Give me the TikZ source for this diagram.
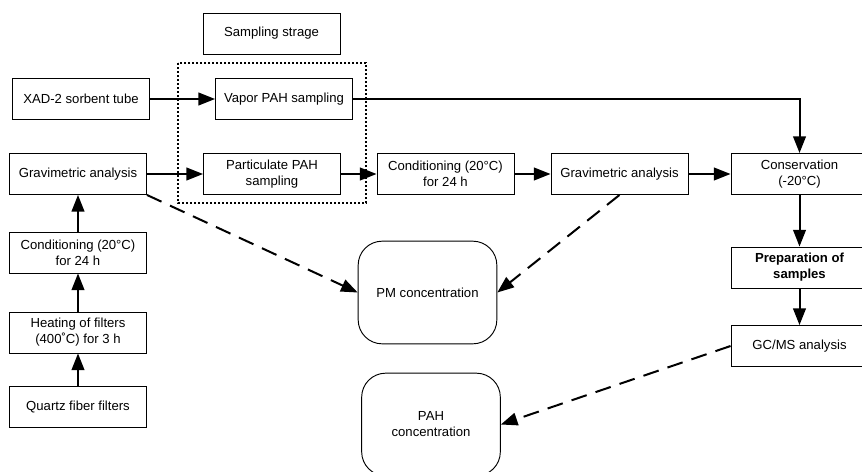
\documentclass[tikz,border=0pt]{standalone}
\usepackage{fontspec}
\setmainfont{Liberation Sans}
\usetikzlibrary{arrows.meta}
\tikzset{
  >={Triangle[length=12.5pt,width=9.5pt]},
  box/.style={draw, line width=0.7pt, minimum width=102.75pt, minimum height=30.75pt,
    align=center, inner sep=2pt, font=\fontsize{9.85}{12}\selectfont},
  roundbox/.style={box, rounded corners=18pt, minimum width=104pt, minimum height=77pt},
  arrow/.style={->, line width=1.5pt},
  dashedarrow/.style={->, line width=1.5pt, dash pattern=on 12pt off 7pt},
  stageframe/.style={draw, line width=1.5pt, dash pattern=on 1.6pt off 1.4pt}
}

\begin{document}
\begin{tikzpicture}[x=0.75pt, y=-0.75pt]
  \clip (0,0) rectangle (862,471);

  % sampling stage
  \node[box] (stage) at (271.5,33.5) {Sampling strage};
  \draw[stageframe] (178,63) rectangle (366,203);

  \node[box] (xad)    at (81,99)    {XAD-2 sorbent tube};
  \node[box] (vapor)  at (284,99)   {Vapor PAH sampling};
  \node[box] (gravL)  at (78,174)   {Gravimetric analysis};
  \node[box] (part)   at (272,174)  {Particulate PAH\\sampling};
  \node[box] (condM)  at (445.5,174) {Conditioning (20°C)\\for 24 h};
  \node[box] (gravM)  at (619.5,174) {Gravimetric analysis};
  \node[box] (cons)   at (799.5,174) {Conservation\\(-20°C)};
  \node[box, font=\fontsize{9.85}{12}\selectfont\bfseries] (prep) at (799.5,267.5) {Preparation of\\samples};
  \node[box] (gcms)   at (799.5,346) {GC/MS analysis};

  % filter preparation
  \node[box] (condL)  at (78,252.5) {Conditioning (20°C)\\for 24 h};
  \node[box] (heat)   at (78,332.5) {Heating of filters\\(400˚C) for 3 h};
  \node[box] (quartz) at (78,407)   {Quartz fiber filters};

  % results
  \node[roundbox] (pm)  at (427.5,292.5) {PM concentration};
  \node[roundbox] (pah) at (431,424.5)   {PAH\\concentration};

  \draw[arrow] (quartz) -- (heat);
  \draw[arrow] (heat) -- (condL);
  \draw[arrow] (condL) -- (gravL);
  \draw[arrow] (xad) -- (vapor);
  \draw[arrow] (gravL) -- (part);
  \draw[arrow] (part) -- (condM);
  \draw[arrow] (condM) -- (gravM);
  \draw[arrow] (gravM) -- (cons);
  \draw[arrow] (vapor.east) -| (cons.north);
  \draw[arrow] (cons) -- (prep);
  \draw[arrow] (prep) -- (gcms);

  \draw[dashedarrow] (gravL.south east) -- (pm.west);
  \draw[dashedarrow] (gravM.south) -- (pm.east);
  \draw[dashedarrow] (gcms.west) -- (pah.east);
\end{tikzpicture}
\end{document}
